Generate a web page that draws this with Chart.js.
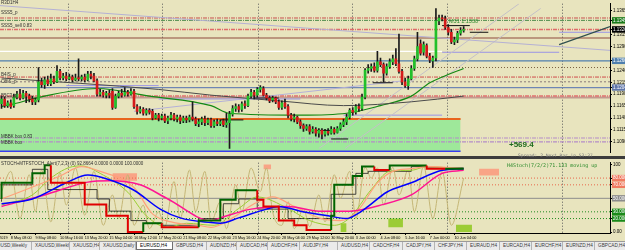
<!DOCTYPE html>
<html>
<head>
<meta charset="utf-8">
<title>EURUSD,H4</title>
<script src="https://cdn.jsdelivr.net/npm/chart.js@4.4.1/dist/chart.umd.min.js"></script>
<style>
  html, body { margin: 0; padding: 0; }
  body { width: 625px; height: 250px; overflow: hidden; position: relative; background: #e8e4be;
         font-family: "Liberation Sans", Arial, sans-serif; }
  canvas { position: absolute; left: 0; }
  #priceCanvas { top: 0; }
  #stochCanvas { top: 159px; }
  #sep { position: absolute; left: 0; top: 156px; width: 625px; height: 3px; background: #3c3c3c; }
  .lbl { position: absolute; white-space: nowrap; font-size: 4.5px; line-height: 5px; color: #303030; }
  .mono { font-family: "DejaVu Sans Mono", monospace; }
  #tabs { position: absolute; left: 0; top: 241px; width: 625px; height: 9px; background: #ebebeb;
          border-top: 1px solid #9a9a9a; box-sizing: border-box; font-size: 4.7px;
          line-height: 8px; color: #3a3a3a; overflow: hidden; white-space: nowrap; }
  #tabs span { position: absolute; top: 0; height: 8px; box-sizing: border-box; padding-left: 3px;
               border-right: 1px solid #b4b4b4; overflow: hidden; }
  #tabs span.on { background: #fff; border: 1px solid #707070; border-top: none; color: #000; }
</style>
</head>
<body>
<canvas id="priceCanvas" width="625" height="156"></canvas>
<div id="sep"></div>
<canvas id="stochCanvas" width="625" height="82"></canvas>
<div id="tabs"></div>
<script>
// EURUSD H4 candles (bar 0 = 7 May 2019)
const openP = [
  1.1170,1.1180,1.1166,1.1172,1.1166,1.1184,1.1190,1.1182,1.1192,1.1186,
  1.1180,1.1174,1.1178,1.1216,1.1210,1.1220,1.1212,1.1222,1.1216,1.1238,
  1.1224,1.1228,1.1222,1.1226,1.1220,1.1224,1.1222,1.1226,1.1220,1.1232,
  1.1228,1.1218,1.1190,1.1194,1.1188,1.1192,1.1196,1.1162,1.1186,1.1192,
  1.1188,1.1194,1.1190,1.1196,1.1164,1.1154,1.1158,1.1150,1.1156,1.1154,
  1.1140,1.1146,1.1140,1.1144,1.1134,1.1140,1.1146,1.1138,1.1142,1.1134,
  1.1140,1.1136,1.1142,1.1138,1.1128,1.1132,1.1138,1.1130,1.1136,1.1124,
  1.1132,1.1128,1.1134,1.1126,1.1130,1.1148,1.1160,1.1164,1.1158,1.1170,
  1.1166,1.1186,1.1194,1.1188,1.1200,1.1202,1.1188,1.1182,1.1178,1.1182,
  1.1174,1.1162,1.1172,1.1164,1.1146,1.1138,1.1142,1.1132,1.1124,1.1118,
  1.1122,1.1112,1.1116,1.1108,1.1114,1.1106,1.1112,1.1108,1.1116,1.1110,
  1.1118,1.1126,1.1132,1.1142,1.1156,1.1152,1.1164,1.1160,1.1184,1.1240,
  1.1244,1.1248,1.1240,1.1258,1.1252,1.1234,1.1248,1.1258,1.1264,1.1254,
  1.1238,1.1216,1.1208,1.1222,1.1244,1.1264,1.1296,1.1278,1.1292,1.1270,
  1.1260,1.1266,1.1344,1.1350,1.1348,1.1330,1.1320,1.1300,1.1304,1.1318,1.1324
];
const highP = [
  1.1186,1.1184,1.1176,1.1178,1.1190,1.1196,1.1200,1.1198,1.1196,1.1190,
  1.1186,1.1182,1.1246,1.1224,1.1226,1.1228,1.1232,1.1228,1.1250,1.1242,
  1.1234,1.1236,1.1232,1.1230,1.1232,1.1264,1.1230,1.1232,1.1238,1.1238,
  1.1234,1.1222,1.1200,1.1198,1.1196,1.1198,1.1202,1.1190,1.1196,1.1200,
  1.1204,1.1198,1.1202,1.1200,1.1168,1.1164,1.1162,1.1160,1.1160,1.1158,
  1.1150,1.1150,1.1148,1.1148,1.1144,1.1152,1.1150,1.1146,1.1146,1.1144,
  1.1144,1.1146,1.1174,1.1142,1.1138,1.1142,1.1144,1.1140,1.1140,1.1136,
  1.1138,1.1136,1.1138,1.1150,1.1154,1.1166,1.1170,1.1168,1.1174,1.1176,
  1.1190,1.1200,1.1198,1.1204,1.1208,1.1206,1.1192,1.1186,1.1186,1.1184,
  1.1178,1.1176,1.1180,1.1168,1.1150,1.1148,1.1144,1.1136,1.1128,1.1126,
  1.1126,1.1122,1.1120,1.1118,1.1118,1.1116,1.1118,1.1122,1.1120,1.1122,
  1.1130,1.1138,1.1148,1.1160,1.1162,1.1168,1.1170,1.1190,1.1244,1.1252,
  1.1254,1.1256,1.1280,1.1266,1.1256,1.1254,1.1264,1.1272,1.1286,1.1316,
  1.1242,1.1224,1.1228,1.1250,1.1270,1.1320,1.1304,1.1300,1.1296,1.1276,
  1.1270,1.1370,1.1356,1.1356,1.1354,1.1336,1.1326,1.1310,1.1322,1.1330,1.1332
];
const lowP = [
  1.1160,1.1162,1.1162,1.1160,1.1162,1.1180,1.1178,1.1180,1.1172,1.1174,
  1.1168,1.1168,1.1174,1.1204,1.1202,1.1208,1.1208,1.1212,1.1214,1.1220,
  1.1220,1.1218,1.1220,1.1216,1.1218,1.1218,1.1218,1.1216,1.1218,1.1222,
  1.1216,1.1186,1.1186,1.1184,1.1182,1.1182,1.1158,1.1160,1.1182,1.1184,
  1.1186,1.1186,1.1188,1.1160,1.1148,1.1150,1.1146,1.1146,1.1148,1.1136,
  1.1138,1.1134,1.1136,1.1130,1.1128,1.1136,1.1134,1.1132,1.1128,1.1130,
  1.1130,1.1132,1.1134,1.1124,1.1122,1.1126,1.1124,1.1126,1.1120,1.1120,
  1.1124,1.1124,1.1122,1.1120,1.1076,1.1144,1.1154,1.1152,1.1154,1.1160,
  1.1164,1.1182,1.1180,1.1184,1.1194,1.1186,1.1178,1.1172,1.1174,1.1170,
  1.1158,1.1158,1.1160,1.1140,1.1134,1.1132,1.1128,1.1118,1.1112,1.1114,
  1.1106,1.1108,1.1102,1.1100,1.1096,1.1102,1.1104,1.1106,1.1106,1.1108,
  1.1114,1.1122,1.1126,1.1138,1.1146,1.1148,1.1154,1.1156,1.1180,1.1234,
  1.1238,1.1236,1.1236,1.1248,1.1216,1.1230,1.1244,1.1252,1.1250,1.1234,
  1.1210,1.1204,1.1200,1.1220,1.1240,1.1260,1.1272,1.1272,1.1266,1.1256,
  1.1246,1.1260,1.1336,1.1344,1.1326,1.1314,1.1296,1.1294,1.1298,1.1314,1.1320
];
const closeP = [
  1.1180,1.1166,1.1172,1.1164,1.1184,1.1190,1.1182,1.1192,1.1186,1.1180,
  1.1174,1.1178,1.1216,1.1210,1.1220,1.1212,1.1222,1.1216,1.1238,1.1224,
  1.1228,1.1222,1.1226,1.1220,1.1224,1.1222,1.1226,1.1220,1.1232,1.1228,
  1.1218,1.1190,1.1194,1.1188,1.1192,1.1188,1.1162,1.1186,1.1192,1.1188,
  1.1194,1.1190,1.1196,1.1164,1.1154,1.1158,1.1150,1.1156,1.1152,1.1140,
  1.1146,1.1140,1.1144,1.1134,1.1140,1.1146,1.1138,1.1142,1.1134,1.1140,
  1.1136,1.1142,1.1138,1.1128,1.1132,1.1138,1.1130,1.1136,1.1124,1.1132,
  1.1128,1.1132,1.1126,1.1130,1.1148,1.1160,1.1164,1.1158,1.1170,1.1166,
  1.1186,1.1194,1.1188,1.1200,1.1204,1.1188,1.1182,1.1176,1.1182,1.1174,
  1.1162,1.1172,1.1164,1.1146,1.1138,1.1142,1.1132,1.1124,1.1118,1.1122,
  1.1112,1.1116,1.1108,1.1114,1.1106,1.1112,1.1108,1.1116,1.1110,1.1118,
  1.1126,1.1132,1.1142,1.1156,1.1152,1.1164,1.1160,1.1184,1.1240,1.1244,
  1.1248,1.1240,1.1258,1.1252,1.1234,1.1248,1.1258,1.1264,1.1254,1.1238,
  1.1216,1.1208,1.1222,1.1244,1.1264,1.1290,1.1276,1.1294,1.1270,1.1262,
  1.1266,1.1344,1.1350,1.1348,1.1330,1.1320,1.1300,1.1304,1.1318,1.1324,1.1326
];

// moving averages, read as [bar, price]
const maGreen = [[0,1.1164],[3,1.1168],[12.5,1.1184],[31,1.1202],[48,1.1186],[68,1.1166],[74,1.1150],
  [97,1.1146],[112,1.1150],[123,1.1166],[133,1.1186],[139,1.1214],[143,1.1226],[150,1.1244]];
const maGray = [[0,1.1224],[51,1.1200],[68,1.1188],[90,1.1176],[111,1.1166],[133,1.1174],[150,1.1186]];

// horizontal levels on the price chart
const priceLevels = [1.1350, 1.1345, 1.1326, 1.1308, 1.1280, 1.1260, 1.1246, 1.1226, 1.1216, 1.1204, 1.1186, 1.1183];
const levelEnds   = [197.5, 197.5, 197.5, 197.5, 143, 197.5, 197.5, 197.5, 197.5, 197.5, 197.5, 197.5];
const levelStyles = [
  {c:'#c85050', w:1, d:[4,1,1,1]}, {c:'#4c8a4c', w:1, d:[4,1,1,1]}, {c:'#e06a6a', w:1.5, d:[4,1,1,1]},
  {c:'#8e4a3e', w:1.2, d:[]},      {c:'#ffffff', w:1.2, d:[]},      {c:'#4f7fae', w:1.2, d:[]},
  {c:'#7a6040', w:1, d:[1,2]},     {c:'#cf4c4c', w:1, d:[4,1,1,1]}, {c:'#8a7a7a', w:1, d:[2,2]},
  {c:'#6f86b4', w:1.2, d:[]},      {c:'#e07070', w:1.5, d:[4,1,1,1]}, {c:'#c29a8e', w:2, d:[]}
];

// short segments: [fromBar, toBar, price]
const lavenderSegs = [[21,51,1.1208],[51,97,1.1180],[111,143,1.1146],[143,181,1.1278],[181,197.5,1.1320]];
const blackSegs = [[143,152,1.1334],[152,158,1.1320],[120.5,127,1.1214],[82,90,1.1182],
  [102,107,1.1114],[107,112.5,1.1096],[71,78.5,1.1136]];

// trend lines: [[bar, price], [bar, price]]
const trendLines = [
  [[-0.5,1.1376],[197.5,1.1282]],
  [[103,1.1076],[168,1.1380]],
  [[111.5,1.1076],[175,1.1370]],
  [[43,1.1154],[133,1.1220]],
  [[181,1.1294],[197.5,1.1332]]
];
const trendStyles = [
  {c:'#b4b0d4', w:1}, {c:'#c4c0c8', w:1}, {c:'#c4c0c8', w:1}, {c:'#b4b0d8', w:1}, {c:'#2f4f4f', w:1.2}
];

// support box [fromBar, toBar, low, high]
const supportZone = [-0.5, 149, 1.1070, 1.1138];
const boxLines = [1.1098, 1.1090];

// price axis
const priceTicks = [1.1365, 1.1315, 1.1290, 1.1240, 1.1215, 1.1190, 1.1165, 1.1140, 1.1115, 1.1090];
const priceTags = [1.1345, 1.1326, 1.1260, 1.1204];
const priceTagColors = ['#1a7a1a', '#000000', '#4f7fae', '#5f76aa'];

// stochastic panel, read as [bar, value]
const stochFast = [[0,60],[3,90],[6,20],[9,85],[11,30],[13,92],[16,15],[19,88],[21,40],[24,95],[27,25],[30,90],
  [33,10],[36,55],[38,20],[41,85],[43,10],[46,40],[48,5],[51,30],[53,8],[56,75],[58,20],[61,92],[63,30],[66,90],
  [68,15],[71,45],[73,5],[76,70],[78,30],[81,95],[84,60],[86,95],[88,30],[91,10],[93,45],[95,5],[98,35],[100,8],
  [103,55],[105,15],[108,85],[110,50],[113,90],[115,20],[118,96],[120,80],[122,95],[124,40],[127,96],[129,55],
  [132,92],[134,30],[137,98],[140,20],[143,90],[146,10],[150,80]];
const stochBlue = [[0,42],[10,49],[21,73],[28,84.5],[35,77.5],[43,62],[51.5,34],[58,21],[68,14],[71,13],[77,21],
  [86,34],[90,38],[97,31],[106,24],[112,20],[115.5,27],[119,38],[125,59],[133,73],[143,91.5],[150,94]];
const stochPink = [[0,38],[14,55],[28,74],[35,76],[45,70],[54,49],[68,17],[71,21],[81,34],[93,38],[103,31],
  [113,31],[124,41],[133,55],[143,87],[150,91.5]];
const stochSalmon = [[0,49],[19,83],[26,97],[32,90],[43,66],[49,27],[56,14],[64,10],[68,7],[75,21],[82,42],
  [88,52],[95,38],[103,21],[110,17],[115.5,31],[122,73],[127,90],[133,94],[139,97],[150,94]];
const stochLime = [[0,40],[10,55],[16,80],[23,97],[26,98],[32,87],[41,59],[47,24],[54,7],[60,13],[69,10],
  [77,35],[83,52],[93,35],[100,17],[108,10],[113,21],[120,63],[126,90],[133,91.5],[138,97],[150,93]];
const mtfStoch = [[0,49],[10,73],[14,87],[16,99],[27,73],[34,41],[41,24],[46,0],[52,13],[64,7],[71,17],[76,48],
  [83,62],[85,48],[90,38],[95,17],[99,10],[107,3],[108,24],[114,70],[117,83],[121,97],[126,92],[138,98.6],
  [144,94],[150,94]];
const mtfSignal = [[0,45],[10,70],[15,93],[31,63],[35,49],[42,31],[47,17],[52,13],[64,10],[72,20],[77,42],
  [83,49],[93,34],[107,20],[115,56],[119,87],[133,90],[138,97],[150,95]];

const stochLevels = [80, 70, 50, 30, 20];
const stochLevelStyles = [{c:'#e8674a', d:[1,2]}, {c:'#e8674a', d:[1,2]}, {c:'#8c8c8c', d:[]},
  {c:'#1f8a1f', d:[1,2]}, {c:'#1f8a1f', d:[1,2]}];
const stochTagColors = ['#f07a60', '#f07a60', '#8c8c8c', '#1a8a1a', '#1a8a1a'];
// boxes [fromBar, toBar, low, high]
const salmonBoxes = [[36,44,76,87],[85,87.5,93,100],[155,161.5,84,94]];
const limeBoxes = [[110,112,0,13],[125.5,130.3,7,20],[147.5,152.7,0,11]];

// time axis
const timeTickBars = [-4.5, 3, 11, 19, 27, 35, 43, 51, 59, 67, 75, 83, 91, 99, 107, 115, 123, 131, 139, 147];
const timeTicks = ['7 May 2019', '8 May 08:00', '9 May 08:00', '10 May 16:00', '13 May 20:00', '15 May 04:00',
  '16 May 12:00', '17 May 20:00', '21 May 08:00', '22 May 08:00', '23 May 16:00', '24 May 20:00',
  '28 May 04:00', '29 May 12:00', '30 May 20:00', '3 Jun 00:00', '4 Jun 08:00', '5 Jun 16:00',
  '7 Jun 00:00', '10 Jun 04:00'];
const gridBars = [21.6, 52.4, 83.3, 113.8, 144.6, 182];

const tabNames = ['AUDUSD,Weekly', 'XAUUSD,Weekly', 'XAUUSD,H4', 'XAUUSD,Daily', 'EURUSD,H4', 'GBPUSD,H4',
  'AUDNZD,H4', 'AUDCAD,H4', 'AUDCHF,H4', 'AUDJPY,H4', 'AUDUSD,H4', 'CADCHF,H4', 'CADJPY,H4', 'CHFJPY,H4',
  'EURAUD,H4', 'EURCAD,H4', 'EURCHF,H4', 'EURNZD,H4', 'GBPCAD,H4'];
const tabEdges = [-14, 32, 70, 100, 136, 173, 207, 237, 268, 300, 338, 370, 403, 435, 467, 500, 532, 563, 595, 640];

Chart.defaults.font.family = '"Liberation Sans", Arial, sans-serif';
Chart.defaults.elements.point.radius = 0;
Chart.defaults.elements.point.hoverRadius = 0;

const X_MIN = -0.5, X_MAX = 197.5;
const pts = arr => arr.map(p => ({x: p[0], y: p[1]}));
const seg = (x0, x1, v, color, width, dash, order) => ({
  type: 'line', data: [{x: x0, y: v}, {x: x1, y: v}], borderColor: color, borderWidth: width,
  borderDash: dash || [], order: order === undefined ? 6 : order
});
const box = (b, fillColor, border, order) => ({
  type: 'line', data: [{x: b[0], y: b[3]}, {x: b[1], y: b[3]}], borderColor: border || 'rgba(0,0,0,0)',
  borderWidth: border ? 2 : 0, backgroundColor: fillColor, fill: {value: b[2]}, order: order || 9
});
const zeroPad = s => { s.paddingLeft = 0; s.paddingRight = 0; };

// ---------- price chart ----------
const bars = openP.map((_, i) => i);
const upColor = '#22c02a', downColor = '#d41a1a';
const priceSets = [];

priceSets.push(box(supportZone, '#9ee89a', null, 12));
priceSets.push(seg(supportZone[0], supportZone[1], supportZone[3], '#e8641e', 2, [], 8));
priceSets.push(seg(supportZone[0], supportZone[1], supportZone[2], '#3a3af0', 1.5, [], 8));
boxLines.forEach(v => priceSets.push(seg(X_MIN, X_MAX, v, '#b48cc8', 1.2, [4,1,1,1], 8)));

priceLevels.forEach((v, i) => {
  const st = levelStyles[i];
  priceSets.push(seg(X_MIN, levelEnds[i], v, st.c, st.w, st.d, 7));
});
lavenderSegs.forEach(s => priceSets.push(seg(s[0], s[1], s[2], '#9a94e6', 1, [], 6)));
blackSegs.forEach(s => priceSets.push(seg(s[0], s[1], s[2], '#111', 1, [], 3)));
trendLines.forEach((t, i) => priceSets.push({
  type: 'line', data: pts(t), borderColor: trendStyles[i].c, borderWidth: trendStyles[i].w, order: 5
}));
priceSets.push({type: 'line', data: pts(maGray), borderColor: '#4a4a4a', borderWidth: 1, tension: 0.3,
  cubicInterpolationMode: 'monotone', order: 4});
priceSets.push({type: 'line', data: pts(maGreen), borderColor: '#138a13', borderWidth: 1.2, tension: 0.3,
  cubicInterpolationMode: 'monotone', order: 4});

priceSets.push({
  type: 'bar', data: bars.map(i => ({x: i, y: [lowP[i], highP[i]]})),
  backgroundColor: '#1a1a1a', barThickness: 1, grouped: false, order: 2
});
priceSets.push({
  type: 'bar', data: bars.map(i => ({x: i, y: [openP[i], closeP[i]]})),
  backgroundColor: bars.map(i => closeP[i] >= openP[i] ? upColor : downColor),
  borderColor: '#1a1a1a', borderWidth: 0, barThickness: 2, minBarLength: 1, grouped: false, order: 1
});

const isTag = v => priceTags.findIndex(t => Math.abs(t - v) < 1e-9);

new Chart(document.getElementById('priceCanvas'), {
  type: 'bar',
  data: {datasets: priceSets},
  options: {
    responsive: false, animation: false, devicePixelRatio: 1, events: [],
    layout: {padding: 0, autoPadding: false},
    plugins: {legend: {display: false}, tooltip: {enabled: false}},
    scales: {
      x: {
        type: 'linear', min: X_MIN, max: X_MAX, offset: false,
        afterBuildTicks: s => { s.ticks = gridBars.map(v => ({value: v})); },
        afterFit: s => { s.height = 0; zeroPad(s); },
        ticks: {display: false},
        grid: {offset: false, color: '#5a5a5a', drawTicks: false, lineWidth: 1},
        border: {display: false, dash: [1, 2]}
      },
      y: {
        position: 'right', min: 1.1068, max: 1.1380,
        afterBuildTicks: s => { s.ticks = priceTicks.concat(priceTags).map(v => ({value: v})); },
        afterFit: s => { s.width = 15; },
        ticks: {
          autoSkip: false, padding: 1, font: {size: 4.5},
          callback: v => v.toFixed(5),
          color: c => isTag(c.tick.value) >= 0 ? '#ffffff' : '#000000',
          showLabelBackdrop: c => isTag(c.tick.value) >= 0,
          backdropColor: c => { const k = isTag(c.tick.value); return k >= 0 ? priceTagColors[k] : 'rgba(0,0,0,0)'; },
          backdropPadding: {top: 0.5, bottom: 0.5, left: 1, right: 6}
        },
        grid: {drawOnChartArea: false, drawTicks: true, tickLength: 2, color: '#000'},
        border: {display: true, color: '#000', width: 1}
      }
    }
  }
});

// ---------- stochastic chart ----------
const stochSets = [];
salmonBoxes.forEach(b => stochSets.push(box(b, '#f9a486', null, 12)));
limeBoxes.forEach(b => stochSets.push(box(b, '#9ccc36', null, 12)));
stochLevels.forEach((v, i) => stochSets.push(seg(X_MIN, X_MAX, v, stochLevelStyles[i].c, 1, stochLevelStyles[i].d, 11)));

stochSets.push({type: 'line', data: pts(stochFast), borderColor: '#c4b676', borderWidth: 1, tension: 0.25,
  cubicInterpolationMode: 'monotone', order: 8});
stochSets.push({type: 'line', data: pts(mtfSignal), borderColor: '#1a1a1a', borderWidth: 0.8, stepped: 'after', order: 7});
stochSets.push({type: 'line', data: pts(stochLime), borderColor: '#9acd32', borderWidth: 1, tension: 0.4,
  cubicInterpolationMode: 'monotone', order: 6});
stochSets.push({type: 'line', data: pts(stochSalmon), borderColor: '#ffa07a', borderWidth: 1.2, tension: 0.4,
  cubicInterpolationMode: 'monotone', order: 5});
stochSets.push({type: 'line', data: pts(stochPink), borderColor: '#ff1493', borderWidth: 1.5, tension: 0.4,
  cubicInterpolationMode: 'monotone', order: 4});
stochSets.push({type: 'line', data: pts(stochBlue), borderColor: '#0000ff', borderWidth: 1.5, tension: 0.4,
  cubicInterpolationMode: 'monotone', order: 3});
stochSets.push({type: 'line', data: pts(mtfStoch), borderColor: '#006400', borderWidth: 2, stepped: 'after',
  segment: {borderColor: c => c.p1.parsed.y < c.p0.parsed.y ? '#e00000' : '#006400'}, order: 2});

const stochTagIdx = v => stochLevels.indexOf(v);

new Chart(document.getElementById('stochCanvas'), {
  type: 'bar',
  data: {datasets: stochSets},
  options: {
    responsive: false, animation: false, devicePixelRatio: 1, events: [],
    layout: {padding: 0, autoPadding: false},
    plugins: {legend: {display: false}, tooltip: {enabled: false}},
    scales: {
      x: {
        type: 'linear', min: X_MIN, max: X_MAX, offset: false, position: 'bottom',
        afterBuildTicks: s => { s.ticks = timeTickBars.map(v => ({value: v})); },
        afterFit: s => { s.height = 8; zeroPad(s); },
        ticks: {autoSkip: false, maxRotation: 0, minRotation: 0, align: 'start', padding: 0.5,
          font: {size: 3.8}, color: '#000', callback: (v, i) => timeTicks[i]},
        grid: {offset: false, drawOnChartArea: false, drawTicks: true, tickLength: 2, color: '#000'},
        border: {display: true, color: '#000'}
      },
      xg: {
        type: 'linear', min: X_MIN, max: X_MAX, offset: false, position: 'bottom',
        afterBuildTicks: s => { s.ticks = gridBars.map(v => ({value: v})); },
        afterFit: s => { s.height = 0; zeroPad(s); },
        ticks: {display: false},
        grid: {offset: false, color: '#5a5a5a', drawTicks: false, lineWidth: 1},
        border: {display: false, dash: [1, 2]}
      },
      y: {
        position: 'right', min: -1.4, max: 102.8,
        afterBuildTicks: s => { s.ticks = [100, 0].concat(stochLevels).map(v => ({value: v})); },
        afterFit: s => { s.width = 15; },
        ticks: {
          autoSkip: false, padding: 1, font: {size: 4.5},
          callback: v => v === 100 ? '100' : v === 0 ? '0.00' : v.toFixed(4),
          color: c => stochTagIdx(c.tick.value) >= 0 ? '#ffffff' : '#000000',
          showLabelBackdrop: c => stochTagIdx(c.tick.value) >= 0,
          backdropColor: c => { const k = stochTagIdx(c.tick.value); return k >= 0 ? stochTagColors[k] : 'rgba(0,0,0,0)'; },
          backdropPadding: {top: 0.5, bottom: 0.5, left: 1, right: 6}
        },
        grid: {drawOnChartArea: false, drawTicks: true, tickLength: 2, color: '#000'},
        border: {display: true, color: '#000', width: 1}
      }
    }
  }
});

// ---------- chart objects text ----------
const labels = [
  {t: 'R3D1H4', x: 1, y: 0},
  {t: 'SSS5_p', x: 1, y: 10},
  {t: 'SSS5_sell 0.83', x: 1, y: 23},
  {t: 'B4IS_p', x: 1, y: 72},
  {t: 'CBIS_p', x: 1, y: 79},
  {t: 'B5C3_p', x: 1, y: 93},
  {t: 'MBBK box 0.83', x: 1, y: 134},
  {t: 'MBBK box', x: 1, y: 140},
  {t: 'M31 1.1330', x: 449, y: 18, c: '#2f8a2f', s: 5.5},
  {t: '+569.4', x: 509, y: 140, c: '#1e6a1e', s: 8, b: true},
  {t: 'Spread: 2   Next Bar in 53:37', x: 518, y: 153, c: '#7a7a7a', s: 4.6, m: true},
  {t: 'STOCH+MTFSTOCH_Alert(7,2,3) (0) 92.8664 0.0000 0.0000 100.0000', x: 1, y: 161},
  {t: 'H4Stoch(7/2/2)71.133 moving up', x: 507, y: 162, c: '#2a8a2a', s: 5, m: true}
];
labels.forEach(l => {
  const d = document.createElement('div');
  d.className = 'lbl' + (l.m ? ' mono' : '');
  d.textContent = l.t;
  d.style.left = l.x + 'px';
  d.style.top = l.y + 'px';
  if (l.c) d.style.color = l.c;
  if (l.s) { d.style.fontSize = l.s + 'px'; d.style.lineHeight = (l.s + 1) + 'px'; }
  if (l.b) d.style.fontWeight = 'bold';
  document.body.appendChild(d);
});

const tabs = document.getElementById('tabs');
tabNames.forEach((n, i) => {
  const s = document.createElement('span');
  s.textContent = n;
  s.style.left = tabEdges[i] + 'px';
  s.style.width = (tabEdges[i + 1] - tabEdges[i]) + 'px';
  if (i === 0) { s.style.textAlign = 'right'; s.style.paddingRight = '4px'; }
  if (i === 4) s.className = 'on';
  tabs.appendChild(s);
});
</script>
</body>
</html>
